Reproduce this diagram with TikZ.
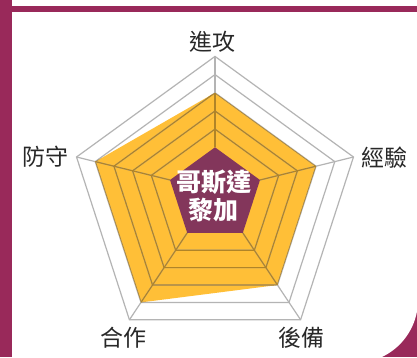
\documentclass[tikz,border=0pt]{standalone}
\usepackage{fontspec}
\newfontfamily\cjk{Noto Sans CJK TC}
\usetikzlibrary{calc}
\definecolor{framec}{RGB}{153,41,90}
\definecolor{hubc}{RGB}{131,54,91}
\definecolor{goldc}{RGB}{255,191,55}
\definecolor{gridc}{RGB}{180,180,180}
\definecolor{gridd}{RGB}{176,132,40}
\definecolor{labelc}{RGB}{40,40,40}
\begin{document}
\begin{tikzpicture}[x=1pt,y=-1pt,
  gridline/.style={draw=gridc, line width=1.2pt, line join=miter},
  griddark/.style={draw=gridd, line width=1.2pt, line join=miter},
  axislabel/.style={font=\cjk\fontsize{23}{26}\selectfont, text=labelc, inner sep=0pt}]
\useasboundingbox (0,0) rectangle (417,357);
\fill[white] (0,0) rectangle (417,357);
\fill[framec] (0,0) rectangle (12,357);
\fill[framec] (12,6) rectangle (417,357);
\fill[white] (12,12) -- (418,12) -- (418,300) arc[start angle=0,end angle=90,radius=63] -- (12,363) -- cycle;
% axes geometry
\foreach \a [count=\i] in {-90,-18,54,126,198} {
  \coordinate (I\i) at ($(215,194.6)+(\a:47.3)$);
  \coordinate (O\i) at ($(215,202)+(\a:145.6)$);
}
% data polygon
\coordinate (D1) at ($(I1)!0.6!(O1)$);
\coordinate (D2) at ($(I2)!0.6!(O2)$);
\coordinate (D3) at ($(I3)!0.6!(O3)$);
\coordinate (D4) at ($(I4)!0.8!(O4)$);
\coordinate (D5) at ($(I5)!0.8!(O5)$);
\fill[goldc] (D1) -- (D2) -- (D3) -- (D4) -- (D5) -- cycle;
% grid
\foreach \k in {0.2,0.4,0.6,0.8,1}
  \draw[gridline] ($(I1)!\k!(O1)$) -- ($(I2)!\k!(O2)$) -- ($(I3)!\k!(O3)$) -- ($(I4)!\k!(O4)$) -- ($(I5)!\k!(O5)$) -- cycle;
\foreach \i in {1,...,5} \draw[gridline] (I\i) -- (O\i);
\begin{scope}
  \clip (D1) -- (D2) -- (D3) -- (D4) -- (D5) -- cycle;
  \foreach \k in {0.2,0.4,0.6,0.8,1}
    \draw[griddark] ($(I1)!\k!(O1)$) -- ($(I2)!\k!(O2)$) -- ($(I3)!\k!(O3)$) -- ($(I4)!\k!(O4)$) -- ($(I5)!\k!(O5)$) -- cycle;
  \foreach \i in {1,...,5} \draw[griddark] (I\i) -- (O\i);
\end{scope}
% hub
\fill[hubc] (I1) -- (I2) -- (I3) -- (I4) -- (I5) -- cycle;
\node[font=\cjk\bfseries\fontsize{25}{28.3}\selectfont, text=white, align=center, inner sep=0pt] (hubtext) at (213.5,195.8) {哥斯達\\黎加};
% labels
\node[axislabel] (l1) at (212.8,41.7) {進攻};
\node[axislabel] (l2) at (384.3,157.3) {經驗};
\node[axislabel] (l3) at (301.3,337.5) {後備};
\node[axislabel] (l4) at (123.3,337.5) {合作};
\node[axislabel] (l5) at (45,156.7) {防守};
\end{tikzpicture}
\end{document}
